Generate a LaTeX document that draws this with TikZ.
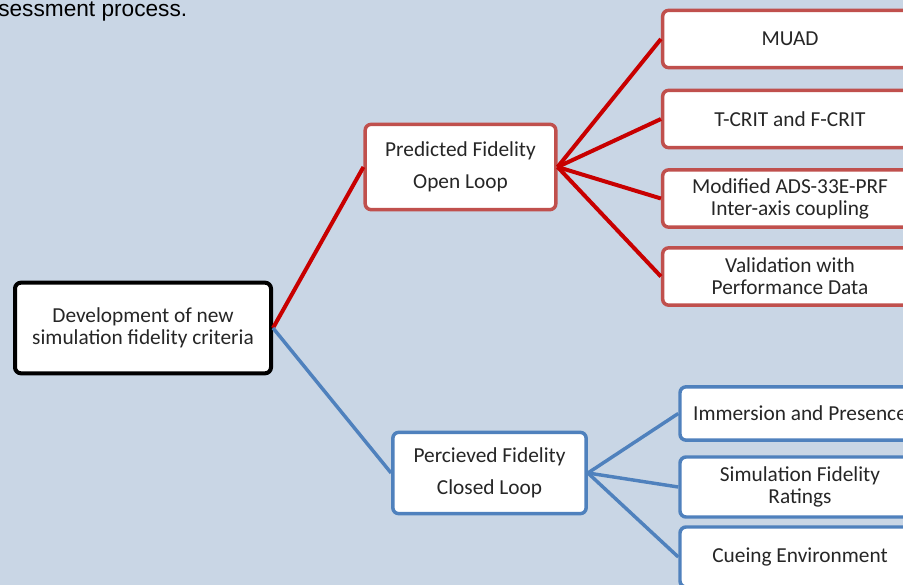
\documentclass[tikz,border=0pt]{standalone}
\usepackage{fontspec}
\setmainfont{Carlito}
\newfontfamily\arialfont{Liberation Sans}
\usepackage{xcolor}

\definecolor{bgpanel}{RGB}{201,214,229}
\definecolor{redline}{RGB}{200,0,0}
\definecolor{redbox}{RGB}{192,80,77}
\definecolor{blueline}{RGB}{79,129,189}

\begin{document}
\begin{tikzpicture}[
    x=0.75pt, y=-0.75pt,
    box/.style = {fill=white, rounded corners=4.5pt, align=center, inner sep=0pt,
                  font=\fontsize{16}{16.5}\selectfont, text=black!85},
    rootbox/.style = {box, draw=black, line width=3pt},
    predbox/.style = {box, draw=redbox, line width=2.6pt, font=\fontsize{16}{24}\selectfont},
    percbox/.style = {box, draw=blueline, line width=2.6pt, font=\fontsize{16}{24}\selectfont},
    redleaf/.style = {box, draw=redbox, line width=2.6pt},
    blueleaf/.style = {box, draw=blueline, line width=2.6pt},
    redlink/.style = {draw=redline, line width=3pt},
    bluelink/.style = {draw=blueline, line width=2.6pt}]
    % PANEL
    \fill[bgpanel] (0,0) rectangle (903,585);
    \clip (0,0) rectangle (903,585);
    % caption fragment
    \node[anchor=base west, inner sep=0pt, font=\arialfont\fontsize{17}{20}\selectfont] (Cap) at (-2,17) {sessment process.};

    % NODES
    % root
    \node[rootbox, minimum width=192pt, minimum height=68pt] (Dev) at (143,328)
        {Development of new\\simulation fidelity criteria};
    % branch Predicted
    \node[predbox, minimum width=143pt, minimum height=64pt] (Pred) at (460.5,167)
        {Predicted Fidelity\\Open Loop};
    % branch Percieved
    \node[percbox, minimum width=145pt, minimum height=61pt] (Perc) at (489.5,473)
        {Percieved Fidelity\\Closed Loop};
    % red leaves
    \node[redleaf, minimum width=191pt, minimum height=43pt] (Muad) at (790,39) {MUAD};
    \node[redleaf, minimum width=191pt, minimum height=43pt] (Crit) at (790,119) {T-CRIT and F-CRIT};
    \node[redleaf, minimum width=191pt, minimum height=43pt] (Ads) at (790,198.5)
        {Modified ADS-33E-PRF\\Inter-axis coupling};
    \node[redleaf, minimum width=191pt, minimum height=43pt] (Valid) at (790,276.5)
        {Validation with\\Performance Data};
    % blue leaves
    \node[blueleaf, minimum width=180pt, minimum height=40pt] (Immer) at (800,413.5) {Immersion and Presence};
    \node[blueleaf, minimum width=180pt, minimum height=45pt] (Rating) at (800,487)
        {Simulation Fidelity\\Ratings};
    \node[blueleaf, minimum width=180pt, minimum height=45pt] (Cue) at (800,557) {Cueing Environment};

    % ARROWS
    \draw[redlink] (Dev.east)--(Pred.west);
    \draw[bluelink] (Dev.east)--(Perc.west);
    \draw[redlink] (Pred.east)--(Muad.west);
    \draw[redlink] (Pred.east)--(Crit.west);
    \draw[redlink] (Pred.east)--(Ads.west);
    \draw[redlink] (Pred.east)--(Valid.west);
    \draw[bluelink] (Perc.east)--(Immer.west);
    \draw[bluelink] (Perc.east)--(Rating.west);
    \draw[bluelink] (Perc.east)--(Cue.west);
  \end{tikzpicture}
\end{document}
